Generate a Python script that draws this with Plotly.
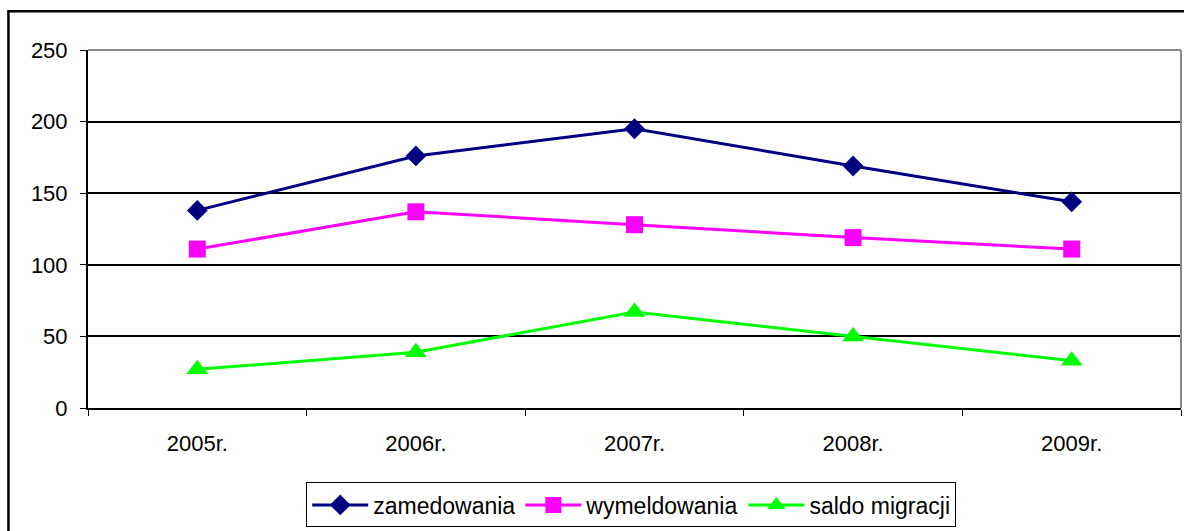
import plotly.graph_objects as go

categories = ["2005r.", "2006r.", "2007r.", "2008r.", "2009r."]
zameldowania = [138, 176, 195, 169, 144]
wymeldowania = [111, 137, 128, 119, 111]
saldo = [27, 39, 67, 50, 33]
y_ticks = [0, 50, 100, 150, 200, 250]

FONT = "Liberation Sans, Arial, sans-serif"

fig = go.Figure()
fig.add_trace(go.Scatter(x=categories, y=zameldowania, name="zamedowania", mode="lines+markers",
                         line=dict(color="#000080", width=3),
                         marker=dict(symbol="diamond", size=16, color="#000080")))
fig.add_trace(go.Scatter(x=categories, y=wymeldowania, name="wymeldowania", mode="lines+markers",
                         line=dict(color="#FF00FF", width=3),
                         marker=dict(symbol="square", size=17, color="#FF00FF")))
fig.add_trace(go.Scatter(x=categories, y=saldo, name="saldo migracji", mode="lines+markers",
                         line=dict(color="#00FF00", width=3),
                         marker=dict(symbol="triangle-up", size=19, color="#00FF00")))

fig.update_layout(
    width=1184, height=531,
    margin=dict(l=88, r=3, t=50, b=119),
    paper_bgcolor="white", plot_bgcolor="white",
    font=dict(family=FONT, size=22, color="black"),
    showlegend=True,
    legend=dict(orientation="h", x=0.497, xanchor="center", y=-0.208, yanchor="top",
                bordercolor="black", borderwidth=1, bgcolor="white",
                font=dict(family=FONT, size=23, color="black"),
                itemwidth=56, tracegroupgap=0),
    xaxis=dict(type="category", range=[-0.5, 4.5], showline=True, linecolor="black", linewidth=2,
               ticks="outside", tickson="boundaries", ticklen=6, tickcolor="black", tickwidth=1,
               showgrid=False, ticklabelstandoff=15, tickfont=dict(size=22)),
    yaxis=dict(range=[0, 250], tickvals=y_ticks, showline=True, linecolor="black", linewidth=2,
               ticks="outside", ticklen=6, tickcolor="black", tickwidth=1,
               showgrid=True, gridcolor="black", gridwidth=1.5, zeroline=False,
               ticklabelstandoff=8, tickfont=dict(size=22)),
    shapes=[
        dict(type="line", xref="paper", yref="paper", x0=0, x1=1, y0=1, y1=1,
             line=dict(color="#888888", width=2)),
        dict(type="line", xref="paper", yref="paper", x0=1, x1=1, y0=0, y1=1,
             line=dict(color="#888888", width=2)),
        dict(type="rect", xref="paper", yref="paper", x0=-0.0728, x1=1.05, y0=-0.5, y1=1.108,
             line=dict(color="black", width=2.5), layer="above"),
    ],
)

fig.write_html("out.html", config={"displayModeBar": False},
               post_script="document.body.style.margin='0';document.body.style.overflow='hidden';")
